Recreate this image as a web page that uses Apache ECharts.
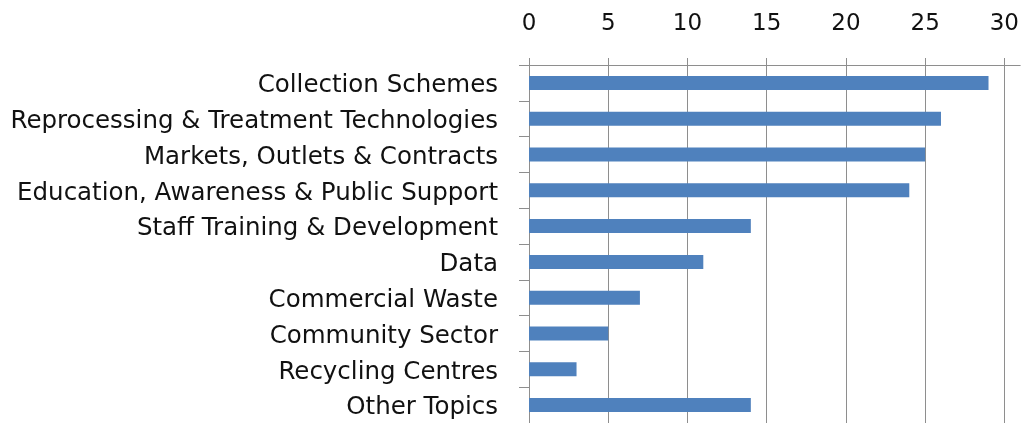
<!DOCTYPE html>
<html>
<head>
<meta charset="utf-8">
<script src="https://cdn.jsdelivr.net/npm/echarts@6/dist/echarts.min.js"></script>
<style>
  html, body { margin: 0; padding: 0; background: #fff; }
  #chart { width: 1022px; height: 423px; }
</style>
</head>
<body>
<div id="chart"></div>
<script>
const categories = [
  'Collection Schemes',
  'Reprocessing & Treatment Technologies',
  'Markets, Outlets & Contracts',
  'Education, Awareness & Public Support',
  'Staff Training & Development',
  'Data',
  'Commercial Waste',
  'Community Sector',
  'Recycling Centres',
  'Other Topics'
];
const values = [29, 26, 25, 24, 14, 11, 7, 5, 3, 14];

const chart = echarts.init(document.getElementById('chart'));

const font = '"DejaVu Sans", sans-serif';
const gridColor = '#8e8e8e';

chart.setOption({
  animation: false,
  grid: {
    left: 529,
    right: 0,
    top: 65,
    height: 363
  },
  xAxis: {
    type: 'value',
    position: 'top',
    min: 0,
    max: 31,
    interval: 5,
    axisLine: { show: true, lineStyle: { color: gridColor } },
    axisTick: { show: true, length: 7, lineStyle: { color: gridColor } },
    axisLabel: {
      margin: 29,
      showMaxLabel: false,
      fontFamily: font,
      fontSize: 23,
      color: '#111'
    },
    splitLine: { show: true, showMaxLine: false, lineStyle: { color: gridColor } }
  },
  yAxis: {
    type: 'category',
    data: categories,
    inverse: true,
    axisLine: { show: true, lineStyle: { color: gridColor } },
    axisTick: { show: true, length: 10, lineStyle: { color: gridColor } },
    axisLabel: {
      margin: 31,
      interval: 0,
      formatter: '{t|{value}}',
      rich: {
        t: {
          fontFamily: font,
          fontSize: 24.5,
          color: '#111',
          padding: [6, 0, 0, 0]
        }
      }
    }
  },
  series: [{
    type: 'bar',
    data: values,
    barWidth: 14,
    itemStyle: { color: '#4f81bd' }
  }]
});
</script>
</body>
</html>
